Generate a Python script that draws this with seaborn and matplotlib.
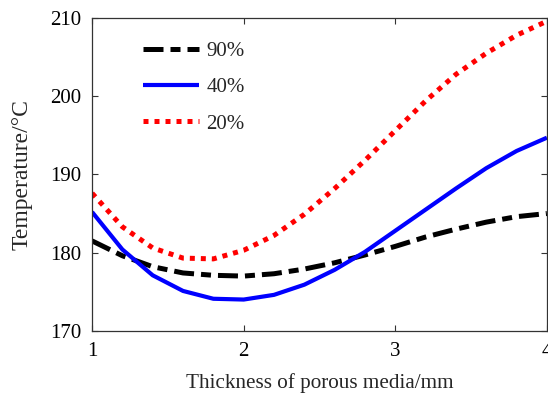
import numpy as np
import pandas as pd
import matplotlib
matplotlib.use("Agg")
import matplotlib.pyplot as plt
import seaborn as sns

thickness = [1.0, 1.2, 1.4, 1.6, 1.8, 2.0, 2.2, 2.4, 2.6, 2.8, 3.0, 3.2, 3.4, 3.6, 3.8, 4.0]
temp_90 = [181.5, 179.6, 178.2, 177.4, 177.1, 177.0, 177.3, 177.9, 178.7, 179.7, 180.8, 182.0, 183.0, 183.9, 184.6, 185.0]
temp_40 = [185.2, 180.4, 177.1, 175.1, 174.1, 174.0, 174.6, 175.9, 177.8, 180.1, 182.8, 185.5, 188.2, 190.8, 193.0, 194.7]
temp_20 = [187.6, 183.3, 180.6, 179.3, 179.2, 180.3, 182.2, 184.9, 188.2, 191.8, 195.6, 199.4, 202.8, 205.5, 207.8, 209.6]
series_labels = ["90%", "40%", "20%"]
x_ticks = [1, 2, 3, 4]
y_ticks = [170, 180, 190, 200, 210]

sns.set_style("ticks")
plt.rcParams["font.family"] = ["Liberation Serif", "DejaVu Serif"]
plt.rcParams["mathtext.fontset"] = "stix"

df = pd.DataFrame({
    "thickness": thickness * 3,
    "temp": temp_90 + temp_40 + temp_20,
    "series": [s for s in series_labels for _ in thickness],
})

fig = plt.figure(figsize=(5.48, 4.01), dpi=100)
ax = fig.add_axes([0.168, 0.175, 0.830, 0.780])

styles = {
    "90%": dict(color="black", lw=3.6, dashes=(4.0, 1.4, 2.0, 1.4)),
    "40%": dict(color="#0000ff", lw=3.0, dashes=None),
    "20%": dict(color="#ff0000", lw=3.6, dashes=(1.0, 1.2)),
}
for name in series_labels:
    st = styles[name]
    sub = df[df["series"] == name]
    sns.lineplot(data=sub, x="thickness", y="temp", ax=ax, color=st["color"],
                 lw=st["lw"], label=name, estimator=None, sort=True)
    ln = ax.get_lines()[-1]
    if st["dashes"] is not None:
        ln.set_dashes(st["dashes"])
    ln.set_solid_capstyle("butt")
    ln.set_dash_capstyle("butt")

ax.set_xlim(1, 4)
ax.set_ylim(170, 210)
ax.set_xticks(x_ticks)
ax.set_yticks(y_ticks)
ax.tick_params(direction="in", length=4, width=0.8, top=True, right=True,
               labelsize=15, colors="#333333", labelcolor="black", pad=8)
for sp in ax.spines.values():
    sp.set_color("#333333")
    sp.set_linewidth(0.9)

ax.set_xlabel("Thickness of porous media/mm", fontsize=15.2, labelpad=9)
ax.set_ylabel("Temperature/\u00b0C", fontsize=17, labelpad=12)

leg = ax.legend(loc="upper left", bbox_to_anchor=(0.07, 0.985), frameon=False,
                fontsize=15, handlelength=2.7, handletextpad=0.35, labelspacing=0.8)

fig.savefig("out.png", dpi=100)
